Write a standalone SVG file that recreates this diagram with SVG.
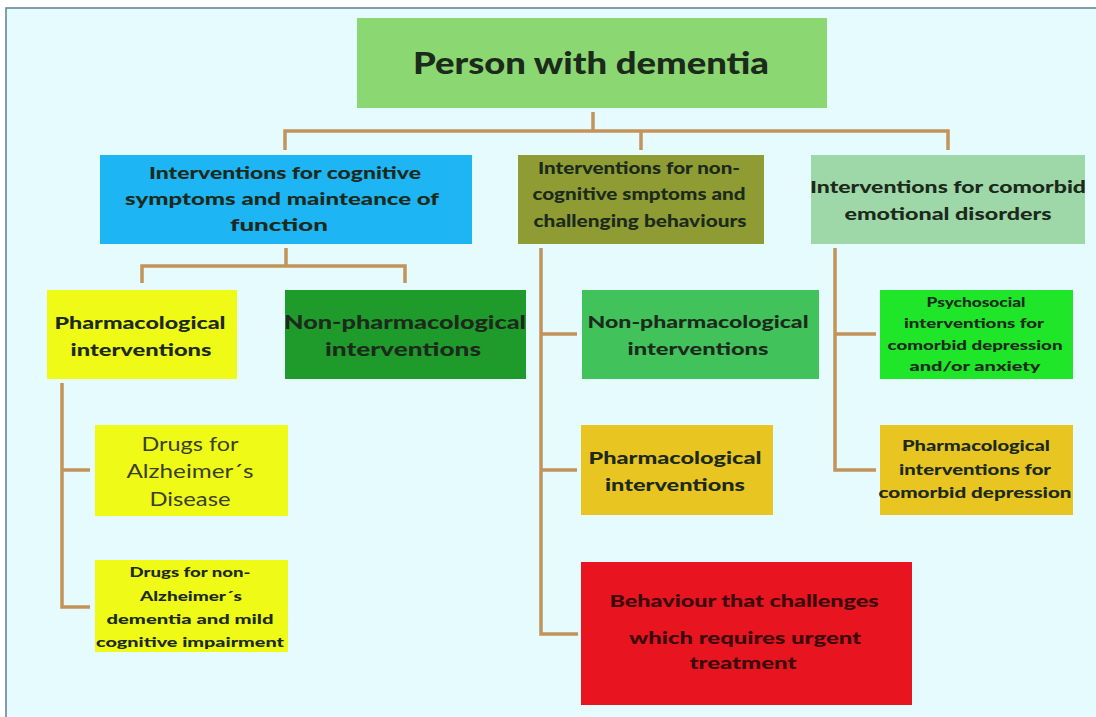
<svg xmlns="http://www.w3.org/2000/svg" width="1096" height="717" viewBox="0 0 1096 717">
  <style>
    .t { font-family: Lato, "Open Sans", "Liberation Sans", sans-serif; font-weight: 900; fill: #1c2a1c; text-anchor: middle; dominant-baseline: central; }
    .thin { font-weight: normal; fill: #3a3f2a; }
    .dark { fill: #3a0a0c; }
    .lnk { fill: none; stroke: #c4935a; stroke-width: 3.5; stroke-linejoin: miter; }
  </style>
  <rect x="0" y="0" width="1096" height="717" fill="#ffffff"/>
  <rect x="6" y="8" width="1096" height="715" fill="#e6fbfd" stroke="#5f7f8e" stroke-width="1.5"/>

  <!-- connectors -->
  <g id="connectors" class="lnk">
    <path d="M593 112 V131 M285 150 V131 H948 V150 M641 131 V150"/>
    <path d="M286 248 V266 M142 283 V266 H405 V283"/>
    <path d="M62 383 V607 H90 M62 470 H90"/>
    <path d="M541 248 V634 H578 M541 334 H577 M541 470 H577"/>
    <path d="M835 248 V470 H876 M835 334 H876"/>
  </g>

  <g id="root">
    <rect x="357" y="18" width="470" height="90" fill="#8bd771"/>
    <text class="t" x="591" y="62" font-size="30" textLength="356" lengthAdjust="spacingAndGlyphs">Person with dementia</text>
  </g>

  <g id="cognitive">
    <rect x="100" y="155" width="372" height="89" fill="#1db5f3"/>
    <text class="t" x="285" y="173" font-size="16.5" textLength="272" lengthAdjust="spacingAndGlyphs">Interventions for cognitive</text>
    <text class="t" x="282" y="199" font-size="16.5" textLength="314" lengthAdjust="spacingAndGlyphs">symptoms and mainteance of</text>
    <text class="t" x="279" y="225" font-size="16.5" textLength="98" lengthAdjust="spacingAndGlyphs">function</text>
  </g>

  <g id="noncognitive">
    <rect x="518" y="155" width="246" height="89" fill="#8e9c33"/>
    <text class="t" x="639" y="167" font-size="16" textLength="202" lengthAdjust="spacingAndGlyphs">Interventions for non-</text>
    <text class="t" x="639" y="193" font-size="16" textLength="213" lengthAdjust="spacingAndGlyphs">cognitive smptoms and</text>
    <text class="t" x="640" y="220" font-size="16" textLength="213" lengthAdjust="spacingAndGlyphs">challenging behaviours</text>
  </g>

  <g id="comorbid">
    <rect x="811" y="155" width="274" height="89" fill="#9fd8a8"/>
    <text class="t" x="948" y="186" font-size="17" textLength="276" lengthAdjust="spacingAndGlyphs">Interventions for comorbid</text>
    <text class="t" x="948" y="213" font-size="17" textLength="207" lengthAdjust="spacingAndGlyphs">emotional disorders</text>
  </g>

  <g id="pharm-cognitive">
    <rect x="47" y="290" width="190" height="89" fill="#effa16"/>
    <text class="t" x="140" y="322" font-size="17" textLength="171" lengthAdjust="spacingAndGlyphs">Pharmacological</text>
    <text class="t" x="141" y="349" font-size="17" textLength="141" lengthAdjust="spacingAndGlyphs">interventions</text>
  </g>

  <g id="nonpharm-cognitive">
    <rect x="285" y="290" width="241" height="89" fill="#1f9b2c"/>
    <text class="t" x="405" y="322" font-size="18" textLength="242" lengthAdjust="spacingAndGlyphs">Non-pharmacological</text>
    <text class="t" x="403" y="349" font-size="18" textLength="156" lengthAdjust="spacingAndGlyphs">interventions</text>
  </g>

  <g id="nonpharm-behaviour">
    <rect x="582" y="290" width="237" height="89" fill="#41c25b"/>
    <text class="t" x="698" y="321" font-size="17.5" textLength="221" lengthAdjust="spacingAndGlyphs">Non-pharmacological</text>
    <text class="t" x="698" y="348" font-size="17.5" textLength="141" lengthAdjust="spacingAndGlyphs">interventions</text>
  </g>

  <g id="psychosocial">
    <rect x="880" y="290" width="193" height="89" fill="#1fe628"/>
    <text class="t" x="976" y="302" font-size="12.5" textLength="99" lengthAdjust="spacingAndGlyphs">Psychosocial</text>
    <text class="t" x="974" y="323" font-size="12.5" textLength="140" lengthAdjust="spacingAndGlyphs">interventions for</text>
    <text class="t" x="975" y="345" font-size="12.5" textLength="175" lengthAdjust="spacingAndGlyphs">comorbid depression</text>
    <text class="t" x="975" y="366" font-size="12.5" textLength="131" lengthAdjust="spacingAndGlyphs">and/or anxiety</text>
  </g>

  <g id="drugs-ad">
    <rect x="95" y="425" width="193" height="91" fill="#effa16"/>
    <text class="t thin" x="190" y="443" font-size="20" textLength="97" lengthAdjust="spacingAndGlyphs">Drugs for</text>
    <text class="t thin" x="190" y="470" font-size="20" textLength="127" lengthAdjust="spacingAndGlyphs">Alzheimer´s</text>
    <text class="t thin" x="190" y="498" font-size="20" textLength="81" lengthAdjust="spacingAndGlyphs">Disease</text>
  </g>

  <g id="drugs-non-ad">
    <rect x="95" y="560" width="193" height="92" fill="#effa16"/>
    <text class="t" x="190" y="571" font-size="14" textLength="121" lengthAdjust="spacingAndGlyphs">Drugs for non-</text>
    <text class="t" x="191" y="595" font-size="14" textLength="102" lengthAdjust="spacingAndGlyphs">Alzheimer´s</text>
    <text class="t" x="190" y="618" font-size="14" textLength="167" lengthAdjust="spacingAndGlyphs">dementia and mild</text>
    <text class="t" x="190" y="641" font-size="14" textLength="188" lengthAdjust="spacingAndGlyphs">cognitive impairment</text>
  </g>

  <g id="pharm-behaviour">
    <rect x="581" y="425" width="192" height="90" fill="#e8c520"/>
    <text class="t" x="675" y="457" font-size="17" textLength="173" lengthAdjust="spacingAndGlyphs">Pharmacological</text>
    <text class="t" x="675" y="484" font-size="17" textLength="140" lengthAdjust="spacingAndGlyphs">interventions</text>
  </g>

  <g id="pharm-comorbid">
    <rect x="880" y="425" width="193" height="90" fill="#e8c520"/>
    <text class="t" x="976" y="445" font-size="15" textLength="148" lengthAdjust="spacingAndGlyphs">Pharmacological</text>
    <text class="t" x="975" y="469" font-size="15" textLength="152" lengthAdjust="spacingAndGlyphs">interventions for</text>
    <text class="t" x="975" y="492" font-size="15" textLength="193" lengthAdjust="spacingAndGlyphs">comorbid depression</text>
  </g>

  <g id="urgent">
    <rect x="581" y="562" width="331" height="143" fill="#e8141f"/>
    <text class="t dark" x="744" y="601" font-size="16.5" textLength="269" lengthAdjust="spacingAndGlyphs">Behaviour that challenges</text>
    <text class="t dark" x="745" y="638" font-size="16.5" textLength="232" lengthAdjust="spacingAndGlyphs">which  requires urgent</text>
    <text class="t dark" x="743" y="663" font-size="16.5" textLength="107" lengthAdjust="spacingAndGlyphs">treatment</text>
  </g>
</svg>
